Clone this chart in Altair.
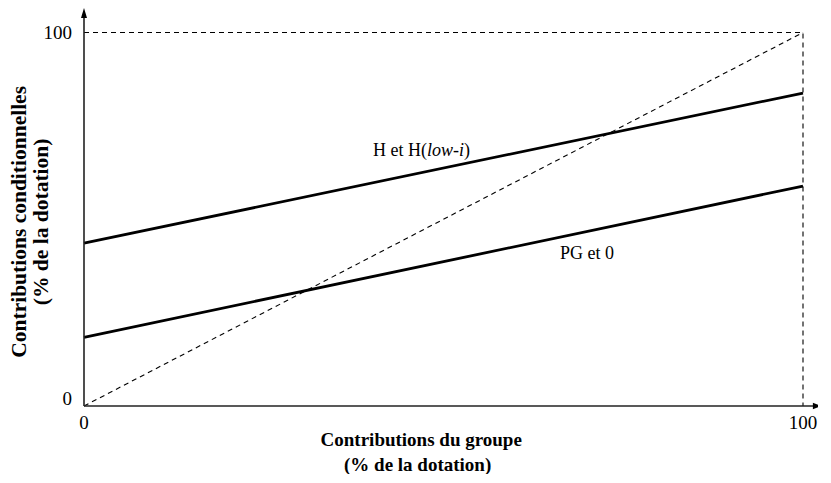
import altair as alt
import pandas as pd

# ---- data ----
x_ends = [0, 100]
h_vals = [43.6, 83.8]      # "H et H(low-i)"
pg_vals = [18.4, 58.9]     # "PG et 0"
diag_vals = [0, 100]       # 45° reference line
axis_max = 100
x_tick_labels = ["0", "100"]
y_tick_labels = ["0", "100"]

FONT = "'Liberation Serif', 'Times New Roman', Times, serif"

lines = pd.DataFrame({
    "x": x_ends * 2,
    "y": h_vals + pg_vals,
    "s": ["H", "H", "PG", "PG"],
})
diag = pd.DataFrame({"x": x_ends, "y": diag_vals})
frame = pd.DataFrame({"x": [0, axis_max, axis_max], "y": [axis_max, axis_max, 0], "o": [0, 1, 2]})

xs = alt.Scale(domain=[0, axis_max], nice=False, zero=False)
ys = alt.Scale(domain=[0, axis_max], nice=False, zero=False)
X = lambda f="x": alt.X(f, type="quantitative", scale=xs, axis=None)
Y = lambda f="y": alt.Y(f, type="quantitative", scale=ys, axis=None)

main = alt.Chart(lines).mark_line(color="black", strokeWidth=2.8, clip=False).encode(
    x=X(), y=Y(), detail="s:N")
diag_l = alt.Chart(diag).mark_line(color="black", strokeWidth=1.1, strokeDash=[5, 4], clip=False).encode(
    x=X(), y=Y())
frame_l = alt.Chart(frame).mark_line(color="black", strokeWidth=1.1, strokeDash=[5, 4], clip=False).encode(
    x=X(), y=Y(), order="o:Q")

# axes with arrows
xaxis = pd.DataFrame({"x": [0], "x2": [102.0], "y": [0]})
yaxis = pd.DataFrame({"x": [0], "y": [0], "y2": [105.0]})
ax_x = alt.Chart(xaxis).mark_rule(color="#222", strokeWidth=1.6, clip=False).encode(
    x=X(), x2="x2", y=Y())
ax_y = alt.Chart(yaxis).mark_rule(color="#222", strokeWidth=1.6, clip=False).encode(
    x=X(), y=Y(), y2="y2")
arr_x = alt.Chart(pd.DataFrame({"x": [102.0], "y": [0]})).mark_point(
    shape="M -1 -0.7 L 1 0 L -1 0.7 Z", size=81, filled=True, color="black", opacity=1, clip=False
).encode(x=X(), y=Y())
arr_y = alt.Chart(pd.DataFrame({"x": [0], "y": [105.2]})).mark_point(
    shape="M -0.6 1 L 0 -1 L 0.6 1 Z", size=100, filled=True, color="black", opacity=1, clip=False
).encode(x=X(), y=Y())

# tick labels
xt = pd.DataFrame({"x": [0, axis_max], "y": [0, 0], "t": x_tick_labels})
xtick = alt.Chart(xt).mark_text(font=FONT, fontSize=19, align="center", baseline="middle", dy=17, clip=False).encode(
    x=X(), y=Y(), text="t:N")
yt0 = pd.DataFrame({"x": [0], "y": [0], "t": [y_tick_labels[0]]})
yt1 = pd.DataFrame({"x": [0], "y": [axis_max], "t": [y_tick_labels[1]]})
ytick0 = alt.Chart(yt0).mark_text(font=FONT, fontSize=19, align="right", baseline="middle", dx=-12, dy=-7,
                                  clip=False).encode(x=X(), y=Y(), text="t:N")
ytick1 = alt.Chart(yt1).mark_text(font=FONT, fontSize=19, align="right", baseline="middle", dx=-12,
                                  clip=False).encode(x=X(), y=Y(), text="t:N")

# line labels
def lab(txt, x, y, dx=0, style="normal"):
    return alt.Chart(pd.DataFrame({"x": [x], "y": [y], "t": [txt]})).mark_text(
        font=FONT, fontSize=18, align="left", baseline="alphabetic", dx=dx, fontStyle=style, clip=False
    ).encode(x=X(), y=Y(), text="t:N")

lab_h1 = lab("H et H(", 40.2, 66.9)
lab_h2 = lab("low-i", 40.2, 66.9, dx=54, style="italic")
lab_h3 = lab(")", 40.2, 66.9, dx=91)
lab_pg = lab("PG et 0", 66.2, 39.4)

# axis titles
xtit = pd.DataFrame({"x": [46.9, 46.4], "y": [-10.6, -17.3],
                     "t": ["Contributions du groupe", "(% de la dotation)"]})
xtitle = alt.Chart(xtit).mark_text(font=FONT, fontSize=19, fontWeight="bold", align="center",
                                    baseline="alphabetic", clip=False).encode(x=X(), y=Y(), text="t:N")
ytit1 = alt.Chart(pd.DataFrame({"x": [-8.95], "y": [49.3], "t": ["Contributions conditionnelles"]})).mark_text(
    font=FONT, fontSize=21.5, fontWeight="bold", align="center", baseline="middle", angle=270, clip=False
).encode(x=X(), y=Y(), text="t:N")
ytit2 = alt.Chart(pd.DataFrame({"x": [-5.84], "y": [49.3], "t": ["(% de la dotation)"]})).mark_text(
    font=FONT, fontSize=21.5, fontWeight="bold", align="center", baseline="middle", angle=270, clip=False
).encode(x=X(), y=Y(), text="t:N")

chart = alt.layer(
    diag_l, frame_l, main, ax_x, ax_y, arr_x, arr_y, xtick, ytick0, ytick1,
    lab_h1, lab_h2, lab_h3, lab_pg, xtitle, ytit1, ytit2
).properties(
    width=719, height=373.5,
    padding={"left": 76, "top": 24.5, "right": 15, "bottom": 68},
    autosize=alt.AutoSizeParams(type="none"),
    background="white",
).configure_view(stroke=None)

chart.save("out.html", embed_options={"renderer": "svg", "actions": False})
